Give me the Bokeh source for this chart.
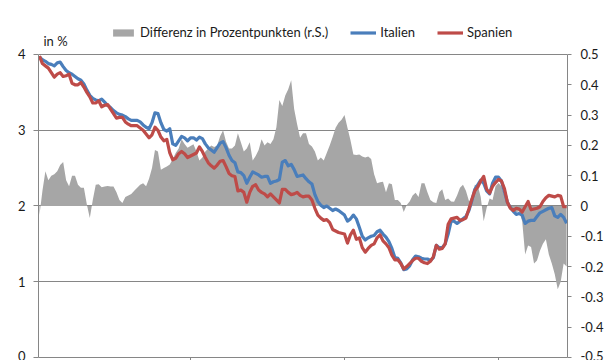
from bokeh.plotting import figure
from bokeh.models import (Range1d, LinearAxis, FixedTicker, NumeralTickFormatter, Legend,
                          LegendItem, Label, CustomLabelingPolicy)
from bokeh.embed import file_html
from bokeh.resources import INLINE

# ---- data (weekly observations) ----
weeks = list(range(1, 180))

italien = [
    3.97, 3.93, 3.91, 3.88, 3.87, 3.85, 3.89, 3.90, 3.84, 3.79,
    3.76, 3.74, 3.71, 3.68, 3.66, 3.61, 3.53, 3.46, 3.42, 3.40,
    3.39, 3.41, 3.37, 3.33, 3.30, 3.26, 3.23, 3.21, 3.20, 3.18,
    3.15, 3.13, 3.13, 3.13, 3.11, 3.07, 3.04, 3.02, 3.10, 3.23,
    3.22, 3.10, 3.01, 2.99, 3.02, 2.82, 2.80, 2.86, 2.92, 2.90,
    2.86, 2.90, 2.90, 2.87, 2.91, 2.89, 2.82, 2.77, 2.74, 2.71,
    2.77, 2.83, 2.85, 2.77, 2.67, 2.60, 2.57, 2.45, 2.44, 2.40,
    2.30, 2.38, 2.45, 2.43, 2.41, 2.38, 2.39, 2.39, 2.30, 2.32,
    2.33, 2.35, 2.58, 2.60, 2.53, 2.55, 2.48, 2.39, 2.40, 2.41,
    2.36, 2.32, 2.29, 2.15, 2.06, 2.01, 1.98, 2.00, 1.97, 1.94,
    1.96, 1.94, 1.91, 1.88, 1.80, 1.83, 1.88, 1.83, 1.72, 1.60,
    1.55, 1.58, 1.60, 1.61, 1.66, 1.68, 1.63, 1.59, 1.53, 1.44,
    1.32, 1.31, 1.25, 1.16, 1.17, 1.21, 1.29, 1.34, 1.33, 1.31,
    1.30, 1.30, 1.28, 1.32, 1.48, 1.45, 1.45, 1.50, 1.63, 1.80,
    1.80, 1.77, 1.80, 1.83, 1.86, 1.94, 2.07, 2.22, 2.28, 2.34,
    2.30, 2.20, 2.16, 2.30, 2.38, 2.38, 2.33, 2.19, 2.05, 1.98,
    1.93, 1.89, 1.90, 1.88, 1.77, 1.80, 1.81, 1.81, 1.86, 1.91,
    1.93, 1.95, 1.97, 1.98, 1.87, 1.85, 1.89, 1.85, 1.77,
]

spanien = [
    3.98, 3.88, 3.85, 3.82, 3.76, 3.70, 3.74, 3.76, 3.71, 3.72,
    3.74, 3.62, 3.60, 3.60, 3.63, 3.57, 3.50, 3.44, 3.36, 3.36,
    3.39, 3.31, 3.33, 3.34, 3.28, 3.22, 3.16, 3.17, 3.17, 3.11,
    3.08, 3.06, 3.06, 3.06, 3.03, 3.00, 2.95, 2.90, 2.94, 3.04,
    3.00, 2.91, 2.86, 2.88, 2.70, 2.61, 2.63, 2.69, 2.72, 2.69,
    2.64, 2.66, 2.68, 2.70, 2.78, 2.72, 2.64, 2.57, 2.53, 2.50,
    2.54, 2.59, 2.60, 2.52, 2.43, 2.40, 2.39, 2.20, 2.21, 2.18,
    2.05, 2.18, 2.26, 2.28, 2.21, 2.18, 2.16, 2.12, 2.16, 2.12,
    2.08, 2.04, 2.22, 2.22, 2.18, 2.15, 2.16, 2.18, 2.14, 2.12,
    2.13, 2.13, 2.08, 1.97, 1.88, 1.84, 1.81, 1.82, 1.78, 1.69,
    1.67, 1.65, 1.64, 1.63, 1.51, 1.62, 1.68, 1.56, 1.58, 1.45,
    1.39, 1.44, 1.48, 1.50, 1.58, 1.62, 1.54, 1.50, 1.45, 1.35,
    1.29, 1.29, 1.24, 1.17, 1.20, 1.24, 1.28, 1.31, 1.31, 1.27,
    1.25, 1.24, 1.27, 1.33, 1.48, 1.43, 1.44, 1.50, 1.76, 1.83,
    1.84, 1.85, 1.81, 1.82, 1.84, 1.96, 2.09, 2.20, 2.25, 2.33,
    2.39, 2.22, 2.17, 2.26, 2.31, 2.35, 2.33, 2.23, 2.05, 1.97,
    1.94, 1.97, 1.96, 1.92, 1.99, 2.06, 1.95, 1.96, 1.97, 1.99,
    2.06, 2.11, 2.14, 2.13, 2.12, 2.14, 2.13, 1.99, 1.99,
]

differenz = [
    -0.03, 0.05, 0.115, 0.085, 0.10, 0.105, 0.115, 0.135, 0.145, 0.085,
    0.065, 0.10, 0.10, 0.07, 0.06, 0.06, 0.005, -0.04, 0.02, 0.07,
    0.072, 0.062, 0.064, 0.066, 0.064, 0.064, 0.045, 0.02, 0.01, 0.03,
    0.035, 0.04, 0.05, 0.06, 0.07, 0.075, 0.065, 0.09, 0.125, 0.185,
    0.18, 0.12, 0.125, 0.13, 0.137, 0.155, 0.175, 0.19, 0.22, 0.205,
    0.192, 0.198, 0.204, 0.18, 0.15, 0.16, 0.18, 0.19, 0.20, 0.195,
    0.20, 0.23, 0.25, 0.212, 0.19, 0.19, 0.20, 0.24, 0.21, 0.18,
    0.19, 0.21, 0.15, 0.165, 0.185, 0.22, 0.20, 0.21, 0.205, 0.22,
    0.26, 0.35, 0.33, 0.365, 0.385, 0.415, 0.32, 0.27, 0.225, 0.24,
    0.24, 0.205, 0.196, 0.18, 0.15, 0.16, 0.15, 0.175, 0.20, 0.228,
    0.258, 0.275, 0.285, 0.30, 0.258, 0.218, 0.17, 0.168, 0.17, 0.163,
    0.16, 0.163, 0.155, 0.105, 0.075, 0.078, 0.08, 0.045, 0.075, 0.072,
    0.02, 0.02, 0.01, -0.02, 0.003, 0.015, 0.035, 0.044, 0.03, 0.075,
    0.075, 0.045, 0.02, 0.012, 0.01, 0.045, 0.055, 0.02, 0.025, 0.015,
    0.014, 0.035, 0.06, 0.07, 0.05, 0.017, 0.017, 0.07, 0.068, 0.03,
    -0.05, -0.006, 0.025, 0.02, 0.065, 0.076, 0.065, 0.035, 0.008, -0.005,
    -0.02, -0.02, -0.017, -0.05, -0.16, -0.13, -0.135, -0.19, -0.18, -0.148,
    -0.125, -0.11, -0.16, -0.19, -0.225, -0.275, -0.25, -0.19, -0.2,
]

x_tick_weeks = [52, 104, 156]
left_ticks = [0, 1, 2, 3, 4]
right_ticks = [-0.5, -0.4, -0.3, -0.2, -0.1, 0.0, 0.1, 0.2, 0.3, 0.4, 0.5]

series_labels = ["Differenz in Prozentpunkten (r.S.)", "Italien", "Spanien"]
unit_label = "in %"

# ---- style ----
FONT = "Lato"
TXT = "#1a1a1a"
AXC = "#868686"
BLUE = "#4A7EBB"
RED = "#BE4B48"
GREY = "#A6A6A6"

# frame extends above the value 4 so that the legend and unit label sit in it;
# axis lines are bounded to the real value ranges
Y_TOP = 4.528
p = figure(width=615, height=360, output_backend="svg", toolbar_location=None,
           x_range=Range1d(0.67, 179.3), y_range=Range1d(0, Y_TOP),
           min_border_left=38, min_border_right=48, min_border_top=14, min_border_bottom=0)
p.extra_y_ranges = {"diff": Range1d(-0.5, -0.5 + Y_TOP / 4)}

p.background_fill_color = "white"
p.border_fill_color = "white"
p.outline_line_color = None

p.xgrid.visible = False
p.ygrid.grid_line_color = AXC
p.ygrid.grid_line_width = 1
p.ygrid.ticker = FixedTicker(ticks=left_ticks)

area = p.varea(x=weeks, y1=0, y2=differenz, y_range_name="diff", fill_color=GREY, fill_alpha=1)
l_it = p.line(weeks, italien, line_color=BLUE, line_width=3.2, line_join="round")
l_sp = p.line(weeks, spanien, line_color=RED, line_width=3.2, line_join="round")

# bottom axis (line and ticks only; its labels lie outside the shown area)
xa = p.xaxis[0]
xa.ticker = FixedTicker(ticks=x_tick_weeks)
xa.major_label_text_font_size = "0px"
xa.major_label_policy = CustomLabelingPolicy(code="return []")
xa.major_label_standoff = 0
xa.major_tick_out = 3
xa.major_tick_in = 0
xa.minor_tick_out = 0
xa.axis_line_color = AXC
xa.major_tick_line_color = AXC

# left axis
ya = p.yaxis[0]
ya.ticker = FixedTicker(ticks=left_ticks)
ya.bounds = (0, 4)
ya.major_tick_out = 5
ya.major_tick_in = 0
ya.minor_tick_out = 0
ya.axis_line_color = AXC
ya.major_tick_line_color = AXC
ya.major_label_standoff = 8
ya.major_label_text_font = FONT
ya.major_label_text_font_size = "13px"
ya.major_label_text_color = TXT

# right axis
ra = LinearAxis(y_range_name="diff", ticker=FixedTicker(ticks=right_ticks),
                formatter=NumeralTickFormatter(format="0.[0]"), bounds=(-0.5, 0.5))
ra.major_tick_out = 4
ra.major_tick_in = 0
ra.minor_tick_out = 0
ra.axis_line_color = AXC
ra.major_tick_line_color = AXC
ra.major_label_standoff = 9
ra.major_label_text_font = FONT
ra.major_label_text_font_size = "13px"
ra.major_label_text_color = TXT
p.add_layout(ra, "right")

legend = Legend(items=[LegendItem(label=series_labels[0], renderers=[area]),
                       LegendItem(label=series_labels[1], renderers=[l_it]),
                       LegendItem(label=series_labels[2], renderers=[l_sp])],
                orientation="horizontal", location=(72, 317),
                border_line_color=None, background_fill_alpha=0,
                padding=0, margin=0, spacing=22, glyph_width=26, glyph_height=9,
                label_height=12, label_standoff=4, label_text_font=FONT,
                label_text_font_size="13px", label_text_color=TXT)
p.add_layout(legend)

p.add_layout(Label(x=0.67, y=4, x_offset=5, y_offset=5, text=unit_label,
                   text_font=FONT, text_font_size="13px", text_color=TXT,
                   text_baseline="bottom"))

open("out.html", "w").write(file_html(p, INLINE))
